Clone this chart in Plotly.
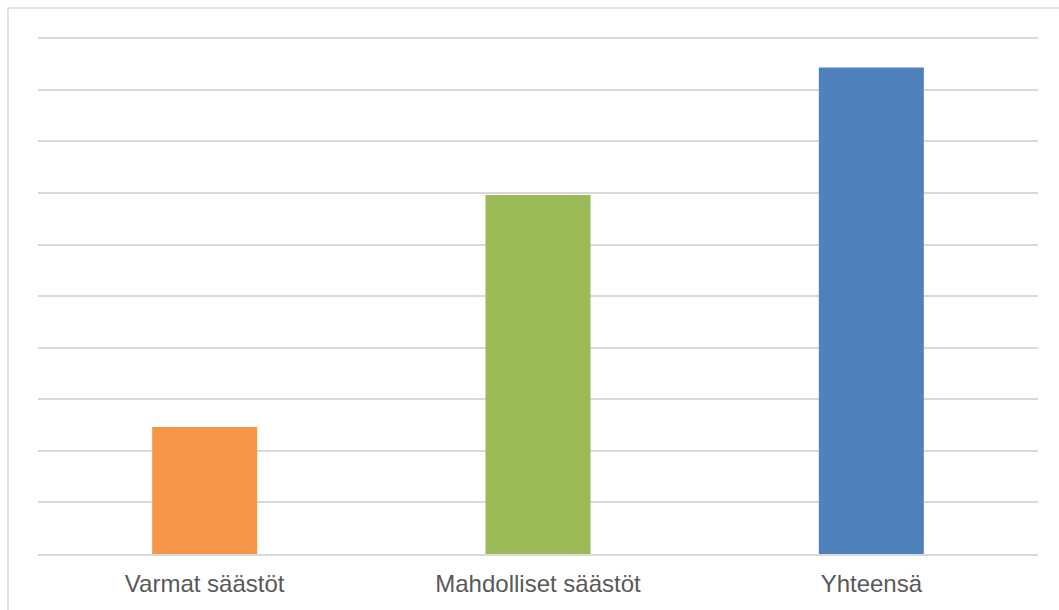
import plotly.graph_objects as go

# Savings categories and their amounts
categories = ["Varmat säästöt", "Mahdolliset säästöt", "Yhteensä"]
values = [2.46, 6.96, 9.43]
bar_colors = ["#F79646", "#9BBB59", "#4F81BD"]

W, H = 1059, 610
ml, mr, mt, mb = 38, 21, 33, 56
plot_h = H - mt - mb
plot_w = W - ml - mr

fig = go.Figure(
    go.Bar(
        x=categories,
        y=values,
        marker=dict(color=bar_colors, line=dict(width=0)),
        hoverinfo="x+y",
    )
)

# Light outer frame around the chart area
fig.add_shape(
    type="rect",
    xref="paper", yref="paper",
    x0=(8 - ml) / plot_w, x1=(W + 20 - ml) / plot_w,
    y0=(mt + plot_h - (H + 20)) / plot_h, y1=(mt + plot_h - 8) / plot_h,
    line=dict(color="#D9D9D9", width=1.5),
    fillcolor="rgba(0,0,0,0)",
    layer="below",
)

fig.update_layout(
    width=W, height=H,
    margin=dict(l=ml, r=mr, t=mt, b=mb),
    paper_bgcolor="white",
    plot_bgcolor="white",
    bargap=0.685,
    showlegend=False,
    font=dict(family="Liberation Sans, Arial, sans-serif", color="#595959"),
    xaxis=dict(
        showgrid=False,
        showline=True,
        linecolor="#D9D9D9",
        linewidth=1.5,
        ticks="",
        tickfont=dict(size=24, color="#595959"),
        ticklabelstandoff=7,
    ),
    yaxis=dict(
        range=[0, 10.1],
        tick0=0,
        dtick=1,
        showgrid=True,
        gridcolor="#D9D9D9",
        gridwidth=1.5,
        showticklabels=False,
        zeroline=False,
        showline=False,
    ),
)

fig.write_html("out.html")
